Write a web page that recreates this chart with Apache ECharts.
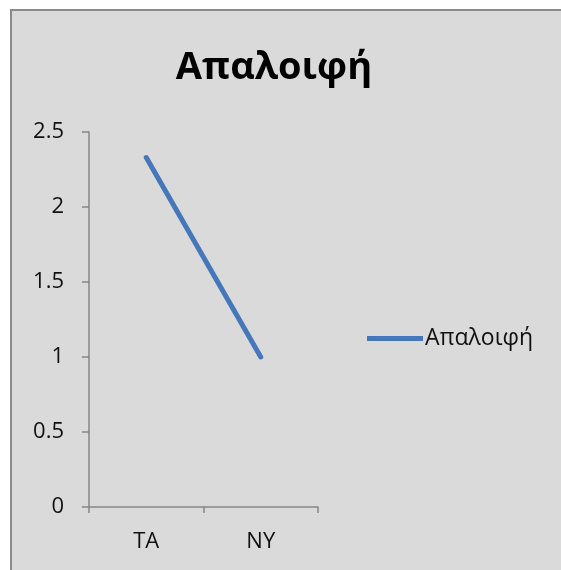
<!DOCTYPE html>
<html><head><meta charset="utf-8">
<script src="https://cdn.jsdelivr.net/npm/echarts@6/dist/echarts.min.js"></script>
<style>html,body{margin:0;padding:0;background:#fff}#c{width:561px;height:570px}</style>
</head><body><div id="c"></div>
<script>
const titleText = 'Απαλοιφή';
const seriesName = 'Απαλοιφή';
const categories = ['TA', 'NY'];
const values = [2.33, 1.0];
const yTicks = [0, 0.5, 1, 1.5, 2, 2.5];

const chart = echarts.init(document.getElementById('c'), null, {renderer: 'canvas'});
const font = '"Open Sans", "Noto Sans", sans-serif';
chart.setOption({
  backgroundColor: '#fff',
  animation: false,
  graphic: [
    {type: 'rect', z: -10, shape: {x: 11, y: 10, width: 560, height: 570},
     style: {fill: '#dadada', stroke: '#8a8a8a', lineWidth: 2}}
  ],
  title: {
    text: titleText, left: 269, top: 44, textAlign: 'center',
    textStyle: {fontFamily: font, fontWeight: 'bold', fontSize: 38, color: '#000'}
  },
  legend: {
    left: 362, top: 322, itemWidth: 58, itemHeight: 5, itemGap: 0,
    textStyle: {fontFamily: font, fontSize: 23, color: '#111', padding: [0, 0, 0, -4]},
    data: [{name: seriesName, icon: 'path://M0,0 L56,0 L56,5 L0,5 Z'}]
  },
  grid: {left: 89, right: 243, top: 132, bottom: 63, containLabel: false},
  xAxis: {
    type: 'category', data: categories, boundaryGap: true,
    axisLine: {lineStyle: {color: '#868686', width: 1.5}},
    axisTick: {show: true, length: 6, lineStyle: {color: '#868686', width: 1.5}},
    axisLabel: {fontFamily: font, fontSize: 22, color: '#111', margin: 24}
  },
  yAxis: {
    type: 'value', min: 0, max: 2.5, interval: 0.5,
    axisLine: {show: true, lineStyle: {color: '#868686', width: 1.5}},
    axisTick: {show: true, length: 7, lineStyle: {color: '#868686', width: 1.5}},
    splitLine: {show: false},
    axisLabel: {fontFamily: font, fontSize: 22, color: '#111', margin: 25,
      formatter: v => yTicks.includes(v) ? String(v) : ''}
  },
  series: [{
    name: seriesName, type: 'line', data: values,
    symbol: 'none', lineStyle: {color: '#4677BA', width: 5, cap: 'round'},
    itemStyle: {color: '#4677BA'}
  }]
});
</script></body></html>
